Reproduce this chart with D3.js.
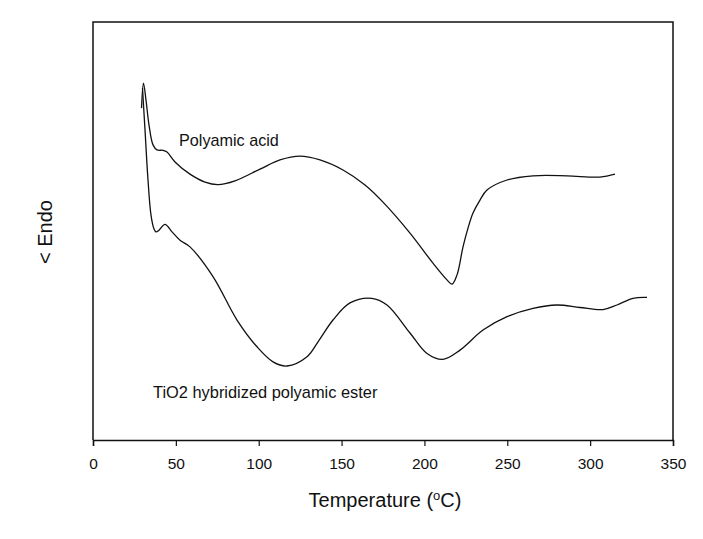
<!DOCTYPE html>
<html><head><meta charset="utf-8">
<script src="https://cdn.jsdelivr.net/npm/d3@7/dist/d3.min.js"></script>
<style>body{margin:0;background:#fff}svg{display:block}text{font-family:Arial,"Liberation Sans",sans-serif;fill:#111}</style>
</head><body>
<script>
// Temperature (°C) and heat flow (arbitrary units, 0-100 full scale)
const acidT = [29.27,30.47,31.98,33.79,36.21,38.62,42.24,44.66,49.48,58.53,67.59,75.43,85.69,100.78,112.84,124.91,136.98,150.86,164.14,175.0,191.29,205.17,213.62,216.64,219.66,223.28,226.29,229.31,233.53,237.76,249.83,265.52,286.03,305.95,315.0];
const acidV = [79.4,85.4,81.3,75.4,70.6,69.4,69.3,68.9,66.5,63.6,61.7,61.1,62.0,64.8,67.0,67.9,67.0,64.6,61.0,56.9,49.5,42.3,38.3,37.3,39.5,46.2,50.7,54.3,57.4,59.8,62.2,63.2,63.2,62.9,63.6];
const esterT = [29.87,31.38,33.19,35.0,36.81,38.02,39.83,43.45,47.67,52.5,58.53,72.41,86.9,98.97,108.62,117.07,129.14,136.0,144.83,155.09,168.18,177.41,191.29,201.55,211.21,221.47,235.34,249.83,265.52,280.0,293.88,307.76,316.21,325.86,334.3];
const esterV = [84.2,74.2,62.2,53.8,50.5,49.8,50.2,51.6,49.8,47.8,46.2,39.1,28.7,22.3,18.7,17.7,19.9,23.6,28.7,32.8,33.9,32.3,25.6,20.7,19.3,21.5,26.3,29.5,31.5,32.3,31.7,31.2,32.3,33.9,34.1];
const xTicks = [0,50,100,150,200,250,300,350];
const seriesLabels = ["Polyamic acid","TiO2 hybridized polyamic ester"];

const W=703,H=539, L=93,R=673,T=22,B=440;
const svg=d3.select("body").append("svg").attr("width",W).attr("height",H);
const x=d3.scaleLinear().domain([0,350]).range([L,R]);
const y=d3.scaleLinear().domain([0,100]).range([B,T]);

// frame
svg.append("path").attr("d",`M${L},${B}V${T}H${R}V${B}`).attr("fill","none").attr("stroke","#111").attr("stroke-width",1.5);

const ax=svg.append("g").attr("transform",`translate(0,${B})`)
  .call(d3.axisBottom(x).tickValues(xTicks).tickSize(6).tickPadding(12).tickFormat(d3.format("d")));
ax.select(".domain").attr("stroke","#111").attr("stroke-width",1.5);
ax.selectAll(".tick line").attr("stroke","#111").attr("stroke-width",1.2);
ax.selectAll(".tick text").style("font-size","15.5px").style("font-family","Arial, 'Liberation Sans', sans-serif").attr("fill","#222");

const line=d3.line().x(d=>x(d[0])).y(d=>y(d[1])).curve(d3.curveCatmullRom.alpha(0.5));
[[acidT,acidV],[esterT,esterV]].forEach(([t,v])=>{
  svg.append("path").datum(t.map((d,i)=>[d,v[i]])).attr("d",line)
    .attr("fill","none").attr("stroke","#111").attr("stroke-width",1.3);
});

svg.append("text").attr("x",179).attr("y",146).style("font-size","16.2px").text(seriesLabels[0]);
svg.append("text").attr("x",153).attr("y",398).style("font-size","16.4px").text(seriesLabels[1]);

const xt=svg.append("text").attr("x",385).attr("y",507).attr("text-anchor","middle").style("font-size","20px");
xt.append("tspan").text("Temperature (");
xt.append("tspan").attr("dy",-7).style("font-size","13px").text("o");
xt.append("tspan").attr("dy",7).text("C)");

svg.append("text").attr("transform","translate(52,232) rotate(-90)").attr("text-anchor","middle").style("font-size","20px").text("< Endo");
</script>
</body></html>
